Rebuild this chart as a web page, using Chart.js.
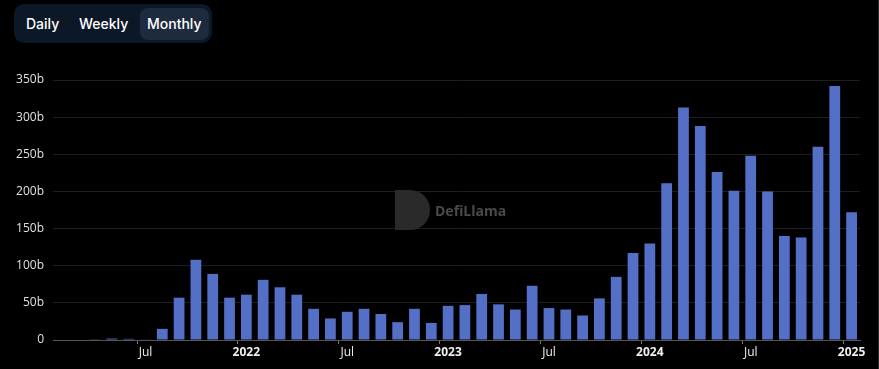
<!DOCTYPE html>
<html>
<head>
<meta charset="utf-8">
<script src="https://cdn.jsdelivr.net/npm/chart.js@4.4.1/dist/chart.umd.min.js"></script>
<style>
  html, body { margin: 0; padding: 0; background: #000; }
  #wrap { position: relative; width: 878px; height: 369px; border-right: 1px solid #2b2b2b; }
  #chart { position: absolute; left: 0; top: 0; }
  .tabs {
    position: absolute; left: 14px; top: 4px; height: 39px; width: 198px;
    background: #0c1728; border-radius: 10px; box-sizing: border-box;
    font-family: Inter, "Noto Sans", sans-serif; font-size: 14px; font-weight: 500; color: #fff;
  }
  .tabs span { position: absolute; top: 4px; height: 32px; line-height: 32px; }
  .tabs .on { background: #1e2a3d; border-radius: 8px; padding: 0 7px; }
</style>
</head>
<body>
<div id="wrap">
  <canvas id="chart" width="878" height="369"></canvas>
  <div class="tabs">
    <span style="left:12px">Daily</span>
    <span style="left:65px">Weekly</span>
    <span class="on" style="left:126px">Monthly</span>
  </div>
</div>
<script>
// monthly volume, in billions
let months = [
  '2021-02','2021-03','2021-04','2021-05','2021-06','2021-07','2021-08','2021-09','2021-10','2021-11','2021-12',
  '2022-01','2022-02','2022-03','2022-04','2022-05','2022-06','2022-07','2022-08','2022-09','2022-10','2022-11','2022-12',
  '2023-01','2023-02','2023-03','2023-04','2023-05','2023-06','2023-07','2023-08','2023-09','2023-10','2023-11','2023-12',
  '2024-01','2024-02','2024-03','2024-04','2024-05','2024-06','2024-07','2024-08','2024-09','2024-10','2024-11','2024-12',
  '2025-01'
];
let volume = [
  0, 0, 1, 2, 1.5, 0.8, 15, 57, 108, 89, 57,
  61, 81, 71, 61, 42, 29, 38, 42, 35, 24, 42, 23,
  46, 47, 62, 48, 41, 73, 43, 41, 33, 56, 85, 117,
  130, 211, 313, 288, 226, 201, 248, 200, 140, 138, 260, 342,
  172
];
let yTicks = [0, 50, 100, 150, 200, 250, 300, 350];

function tickText(m) {
  let parts = m.split('-');
  if (parts[1] === '01') return parts[0];
  if (parts[1] === '07') return 'Jul';
  return '';
}

let watermark = {
  id: 'watermark',
  beforeDatasetsDraw(chart) {
    let c = chart.ctx;
    c.save();
    c.fillStyle = '#2a2a2a';
    c.beginPath();
    c.moveTo(395, 190);
    c.lineTo(410, 190);
    c.arc(410, 210, 20, -Math.PI / 2, Math.PI / 2);
    c.lineTo(395, 230);
    c.closePath();
    c.fill();
    c.fillStyle = '#4a4a4a';
    c.font = 'bold 14px "Open Sans", sans-serif';
    c.textBaseline = 'middle';
    c.fillText('DefiLlama', 435, 212);
    c.restore();
  }
};

let volChart = new Chart(document.getElementById('chart').getContext('2d'), {
  type: 'bar',
  data: {
    labels: months,
    datasets: [{
      data: volume,
      backgroundColor: '#5470c6',
      barPercentage: 0.64,
      categoryPercentage: 1
    }]
  },
  plugins: [watermark],
  options: {
    responsive: false,
    animation: false,
    layout: { padding: { top: 80, right: 18, left: 0, bottom: 0 } },
    plugins: { legend: { display: false }, tooltip: { enabled: false } },
    scales: {
      x: {
        afterFit: s => { s.height = 29; },
        border: { color: '#555' },
        grid: {
          drawOnChartArea: false,
          tickLength: 4,
          color: ctx => (ctx.tick && tickText(months[ctx.tick.value]) !== '') ? '#777' : 'rgba(0,0,0,0)'
        },
        ticks: {
          autoSkip: false,
          maxRotation: 0,
          padding: 1,
          color: '#f0f0f0',
          font: ctx => ({
            family: '"Open Sans", "Noto Sans", sans-serif',
            size: 12,
            weight: /^\d{4}$/.test(tickText(months[ctx.index])) ? 'bold' : 'normal'
          }),
          callback: (v, i) => tickText(months[i])
        }
      },
      y: {
        min: 0,
        max: 350,
        afterFit: s => { s.width = 53; },
        afterBuildTicks: s => { s.ticks = yTicks.map(v => ({ value: v })); },
        border: { display: false },
        grid: { color: '#1e1e1e', drawTicks: false },
        ticks: {
          padding: 9,
          color: '#e0e0e0',
          font: { family: '"Open Sans", "Noto Sans", sans-serif', size: 12 },
          callback: v => v === 0 ? '0' : v + 'b'
        }
      }
    }
  }
});
</script>
</body>
</html>
